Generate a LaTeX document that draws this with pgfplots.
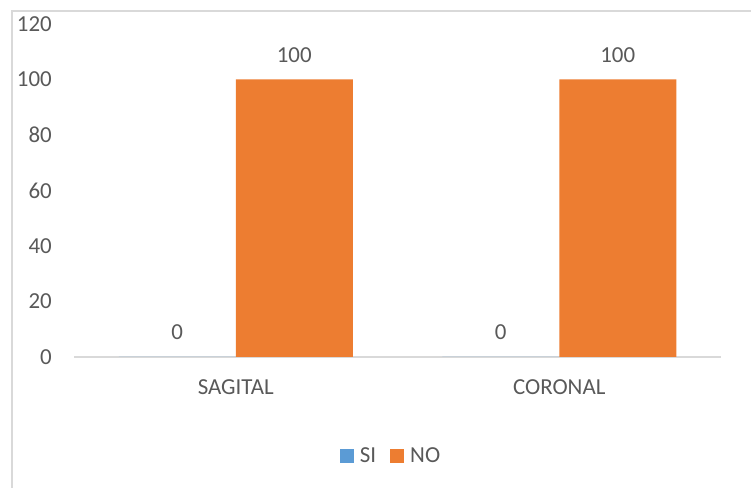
\documentclass[border=0pt]{standalone}
\usepackage{fontspec}
\setmainfont{Carlito}
\usepackage{pgfplots}
\pgfplotsset{compat=1.18}
\definecolor{txt}{HTML}{595959}
\definecolor{lgray}{HTML}{D9D9D9}
\definecolor{cblue}{HTML}{5B9BD5}
\definecolor{corange}{HTML}{ED7D31}
\begin{document}
\begin{tikzpicture}
\path[use as bounding box] (0,0) rectangle (751bp,488bp);
\draw[lgray, line width=2bp] (12bp,0) -- (12bp,477bp) -- (751bp,477bp);
\begin{axis}[
  at={(74bp,131bp)}, anchor=south west,
  scale only axis, width=647bp, height=333bp,
  ybar=0pt, bar width=117bp,
  xmin=-0.5, xmax=1.5, ymin=0, ymax=120,
  xtick={0,1}, xticklabels={SAGITAL,CORONAL},
  ytick={0,20,40,60,80,100,120},
  major tick length=0,
  axis y line=left, axis x line=bottom,
  y axis line style={draw=none},
  x axis line style={-, draw=lgray, line width=1.5bp},
  /pgf/number format/assume math mode=true,
  font=\fontsize{23}{27}\selectfont,
  every tick label/.append style={text=txt},
  yticklabel style={anchor=east, inner sep=0pt, xshift=-22bp},
  xticklabel style={anchor=base, inner sep=0pt, yshift=-38bp},
  nodes near coords,
  nodes near coords style={anchor=base, inner sep=0pt, yshift=17bp, text=txt, font=\fontsize{23}{27}\selectfont, /pgf/number format/assume math mode=true},
  legend style={at={(0.49,-0.297)}, anchor=center, draw=none, legend columns=-1, text=txt, font=\fontsize{23}{27}\selectfont,
    /tikz/every odd column/.append style={column sep=4bp},
    /tikz/every even column/.append style={column sep=12bp}},
  legend image code/.code={\fill[#1] (0bp,-7bp) rectangle (14bp,7bp);},
]
\addplot[fill=cblue, draw=none] coordinates {(0,0) (1,0)};
\addplot[fill=corange, draw=none] coordinates {(0,100) (1,100)};
\legend{SI,NO}
\end{axis}
\end{tikzpicture}
\end{document}
